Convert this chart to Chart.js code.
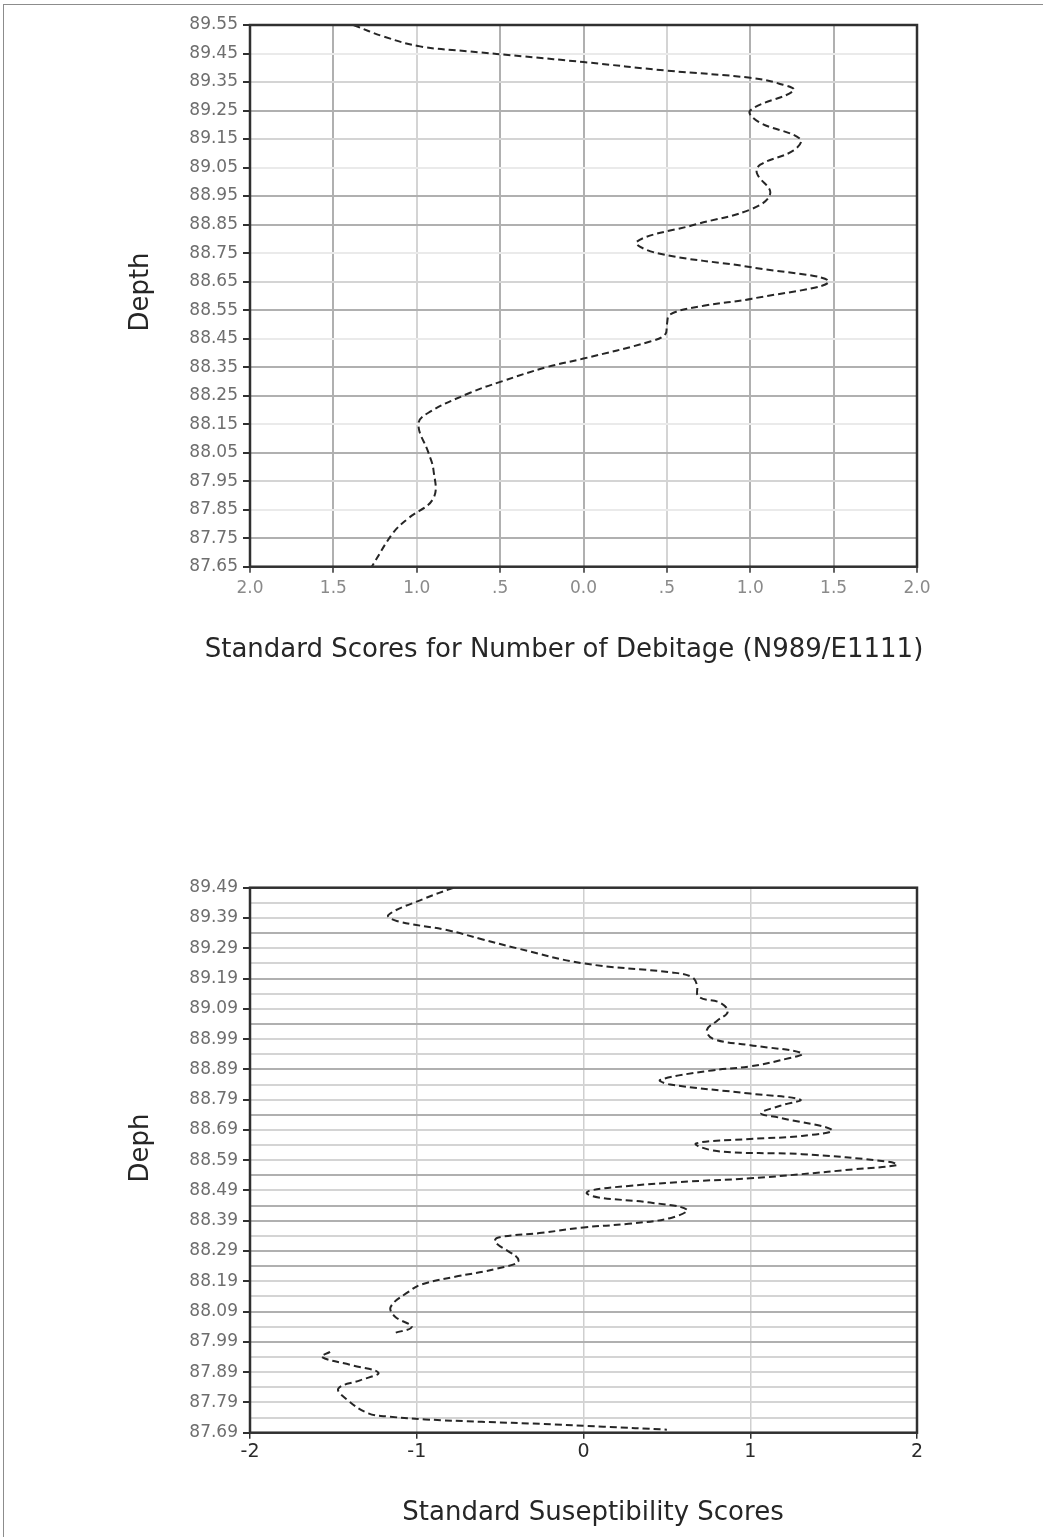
<!DOCTYPE html>
<html>
<head>
<meta charset="utf-8">
<title>Debitage and susceptibility standard scores by depth</title>
<script src="https://cdn.jsdelivr.net/npm/chart.js@4.4.1/dist/chart.umd.min.js"></script>
<style>
  html, body { margin: 0; padding: 0; background: #fff; }
  body { width: 1043px; height: 1537px; position: relative; overflow: hidden; }
  .sheet { position: absolute; left: 3px; top: 4px; right: -4px; bottom: -4px;
           border-top: 1.5px solid #8c8c8c; border-left: 1.5px solid #8c8c8c; }
  canvas { position: absolute; left: 0; }
  #debitage { top: 0; }
  #suscept { top: 860px; }
</style>
</head>
<body>
<div class="sheet"></div>
<canvas id="debitage" width="1043" height="690"></canvas>
<canvas id="suscept" width="1043" height="677"></canvas>
<script>
// ---- Debitage count, unit N989/E1111 ----
const debitageDepth = [89.55, 89.51, 89.475, 89.457, 89.44, 89.42, 89.39, 89.365, 89.345, 89.32,
  89.25, 89.21, 89.15, 89.11, 89.06, 89.03, 88.96, 88.905, 88.85, 88.79,
  88.75, 88.70, 88.65, 88.59, 88.565, 88.535, 88.50, 88.465, 88.44, 88.38,
  88.35, 88.30, 88.26, 88.19, 88.15, 88.05, 87.99, 87.89, 87.82, 87.77, 87.65];
const debitageScore = [-1.38, -1.20, -0.98, -0.68, -0.36, 0.00, 0.50, 1.00, 1.17, 1.26,
  1.00, 1.05, 1.30, 1.26, 1.06, 1.04, 1.12, 1.01, 0.67, 0.32,
  0.44, 1.01, 1.47, 1.01, 0.72, 0.52, 0.50, 0.49, 0.40, 0.00,
  -0.22, -0.49, -0.68, -0.93, -0.99, -0.93, -0.90, -0.90, -1.05, -1.14, -1.27];
const debitageDepthTicks = [89.55, 89.45, 89.35, 89.25, 89.15, 89.05, 88.95, 88.85, 88.75, 88.65,
  88.55, 88.45, 88.35, 88.25, 88.15, 88.05, 87.95, 87.85, 87.75, 87.65];
const debitageScoreTicks = [-2, -1.5, -1, -0.5, 0, 0.5, 1, 1.5, 2];
const debitageScoreLabels = ['2.0', '1.5', '1.0', '.5', '0.0', '.5', '1.0', '1.5', '2.0'];

// ---- Magnetic susceptibility (null marks the missing interval) ----
const susceptDepth = [89.49, 89.455, 89.40, 89.38, 89.35, 89.32, 89.29, 89.24, 89.21, 89.195,
  89.17, 89.13, 89.11, 89.08, 89.05, 89.02, 88.99, 88.97, 88.943, 88.92,
  88.90, 88.885, 88.855, 88.84, 88.81, 88.79, 88.77, 88.745, 88.73, 88.69,
  88.67, 88.66, 88.645, 88.62, 88.61, 88.585, 88.574, 88.56, 88.544, 88.53,
  88.52, 88.505, 88.49, 88.48, 88.467, 88.45, 88.427, 88.40, 88.38, 88.368,
  88.35, 88.335, 88.32, 88.26, 88.233, 88.205, 88.18, 88.155, 88.106, 88.073,
  88.04, 88.018, 87.99, 87.957, 87.94, 87.913, 87.888, 87.863, 87.836, 87.80,
  87.754, 87.743, 87.734, 87.726, 87.719, 87.71, 87.70];
const susceptScore = [-0.78, -0.95, -1.17, -1.12, -0.82, -0.61, -0.40, 0.00, 0.53, 0.65,
  0.68, 0.69, 0.82, 0.865, 0.80, 0.74, 0.78, 1.00, 1.31, 1.18,
  1.00, 0.75, 0.46, 0.52, 1.00, 1.30, 1.18, 1.065, 1.18, 1.49,
  1.31, 1.00, 0.675, 0.80, 1.31, 1.83, 1.88, 1.62, 1.31, 1.00,
  0.64, 0.27, 0.04, 0.02, 0.09, 0.40, 0.62, 0.53, 0.27, 0.00,
  -0.25, -0.51, -0.53, -0.39, -0.51, -0.77, -0.97, -1.05, -1.156, -1.13,
  -1.03, -1.14, null, -1.52, -1.57, -1.39, -1.23, -1.34, -1.47, -1.42,
  -1.29, -1.16, -0.95, -0.61, -0.25, 0.12, 0.50];
const susceptDepthTicks = [89.49, 89.39, 89.29, 89.19, 89.09, 88.99, 88.89, 88.79, 88.69, 88.59,
  88.49, 88.39, 88.29, 88.19, 88.09, 87.99, 87.89, 87.79, 87.69];
const susceptHalfSteps = [89.44, 89.34, 89.24, 89.14, 89.04, 88.94, 88.84, 88.74, 88.64, 88.54,
  88.44, 88.34, 88.24, 88.14, 88.04, 87.94, 87.84, 87.74];
const susceptScoreTicks = [-2, -1, 0, 1, 2];
const susceptScoreLabels = ['-2', '-1', '0', '1', '2'];

// ---- shared styling ----
const FONT = "'DejaVu Sans', sans-serif";
const INK = '#262626';
const GRID_DARK = '#b0b0b0', GRID_LIGHT = '#d4d4d4', GRID_FAINT = '#eaeaea';
const key = v => Number(v).toFixed(2);

// Grid shading of the printed sheet
const debDarkRows = ['89.25', '88.95', '88.85', '88.55', '88.35', '88.25', '88.05', '87.75'];
const debLightRows = ['89.35', '89.15', '88.65', '87.95'];
const debDarkCols = ['-1.50', '-0.50', '0.00', '1.00', '1.50'];
const susDarkRows = ['89.34', '89.19', '89.04', '88.89', '88.74', '88.54', '88.44', '88.39',
  '88.29', '88.24', '88.09', '87.99'];

const plotFrame = {
  id: 'plotFrame',
  afterDatasetsDraw(chart) {
    const { ctx, chartArea: a } = chart;
    ctx.save();
    ctx.strokeStyle = '#303030';
    ctx.lineWidth = 2.5;
    ctx.strokeRect(a.left, a.top, a.right - a.left, a.bottom - a.top);
    ctx.restore();
  }
};

const captions = {
  id: 'captions',
  afterDraw(chart, args, o) {
    const ctx = chart.ctx;
    ctx.save();
    ctx.fillStyle = INK;
    ctx.font = o.size + 'px ' + FONT;
    ctx.textAlign = 'center';
    ctx.textBaseline = 'alphabetic';
    ctx.fillText(o.x.text, o.x.cx, o.x.base);
    ctx.translate(o.y.cx, o.y.cy);
    ctx.rotate(-Math.PI / 2);
    ctx.textBaseline = 'middle';
    ctx.fillText(o.y.text, 0, 0);
    ctx.restore();
  }
};

function toPoints(depths, scores) {
  return depths.map((d, i) => ({ x: scores[i], y: d }));
}

function depthChart(canvasId, cfg) {
  return new Chart(document.getElementById(canvasId), {
    type: 'scatter',
    data: {
      datasets: [{
        data: toPoints(cfg.depths, cfg.scores),
        showLine: true,
        spanGaps: false,
        borderColor: INK,
        borderWidth: 2,
        borderDash: [7, 4],
        pointRadius: 0,
        pointHoverRadius: 0,
        tension: 0.4,
        fill: false
      }]
    },
    options: {
      responsive: false,
      animation: false,
      devicePixelRatio: 1,
      layout: { autoPadding: false, padding: cfg.padding },
      plugins: {
        legend: { display: false },
        tooltip: { enabled: false },
        captions: cfg.captions
      },
      scales: {
        x: {
          type: 'linear',
          min: -2, max: 2,
          afterBuildTicks: s => { s.ticks = cfg.xTicks.map(v => ({ value: v })); },
          afterFit: s => { s.height = 40; },
          border: { display: false },
          grid: {
            color: cfg.xGridColor,
            lineWidth: cfg.xGridWidth,
            tickLength: 6,
            tickColor: '#303030',
            tickWidth: 1.5
          },
          ticks: {
            autoSkip: false,
            maxRotation: 0,
            padding: cfg.xTickPad,
            color: cfg.xTickColor,
            font: { family: FONT, size: cfg.xTickSize },
            callback: (v, i) => cfg.xLabels[i]
          }
        },
        y: {
          type: 'linear',
          min: cfg.yMin, max: cfg.yMax,
          afterBuildTicks: s => { s.ticks = cfg.yGrid.map(v => ({ value: v })); },
          afterFit: s => { s.width = 250; },
          border: { display: false },
          grid: {
            color: cfg.yGridColor,
            lineWidth: 2,
            tickLength: 7,
            tickColor: c => cfg.yLabelSet.has(key(c.tick.value)) ? '#303030' : 'rgba(0,0,0,0)',
            tickWidth: 2
          },
          ticks: {
            autoSkip: false,
            padding: 5,
            color: '#6e6e6e',
            font: { family: FONT, size: 17 },
            callback: v => cfg.yLabelSet.has(key(v)) ? key(v) : ''
          }
        }
      }
    },
    plugins: [plotFrame, captions]
  });
}

// Upper chart: debitage
depthChart('debitage', {
  depths: debitageDepth,
  scores: debitageScore,
  yMin: 87.65, yMax: 89.55,
  yGrid: debitageDepthTicks,
  yLabelSet: new Set(debitageDepthTicks.map(key)),
  yGridColor: c => {
    const k = key(c.tick.value);
    return debDarkRows.includes(k) ? GRID_DARK : debLightRows.includes(k) ? GRID_LIGHT : GRID_FAINT;
  },
  xTicks: debitageScoreTicks,
  xLabels: debitageScoreLabels,
  xGridColor: c => debDarkCols.includes(key(c.tick.value)) ? GRID_DARK : GRID_LIGHT,
  xGridWidth: 2,
  xTickColor: '#8a8a8a',
  xTickSize: 17,
  xTickPad: 6,
  padding: { top: 25, right: 126, bottom: 83.3, left: 0 },
  captions: {
    size: 26,
    x: { text: 'Standard Scores for Number of Debitage (N989/E1111)', cx: 564, base: 657 },
    y: { text: 'Depth', cx: 141, cy: 292 }
  }
});

// Lower chart: magnetic susceptibility
const susceptGrid = susceptDepthTicks.concat(susceptHalfSteps).sort((a, b) => a - b);
depthChart('suscept', {
  depths: susceptDepth,
  scores: susceptScore,
  yMin: 87.69, yMax: 89.49,
  yGrid: susceptGrid,
  yLabelSet: new Set(susceptDepthTicks.map(key)),
  yGridColor: c => susDarkRows.includes(key(c.tick.value)) ? GRID_DARK : GRID_LIGHT,
  xTicks: susceptScoreTicks,
  xLabels: susceptScoreLabels,
  xGridColor: '#cfcfcf',
  xGridWidth: 1.5,
  xTickColor: '#2a2a2a',
  xTickSize: 19,
  xTickPad: 2,
  padding: { top: 27.7, right: 126, bottom: 64.3, left: 0 },
  captions: {
    size: 26,
    x: { text: 'Standard Suseptibility Scores', cx: 593, base: 660 },
    y: { text: 'Deph', cx: 141, cy: 288 }
  }
});
</script>
</body>
</html>
